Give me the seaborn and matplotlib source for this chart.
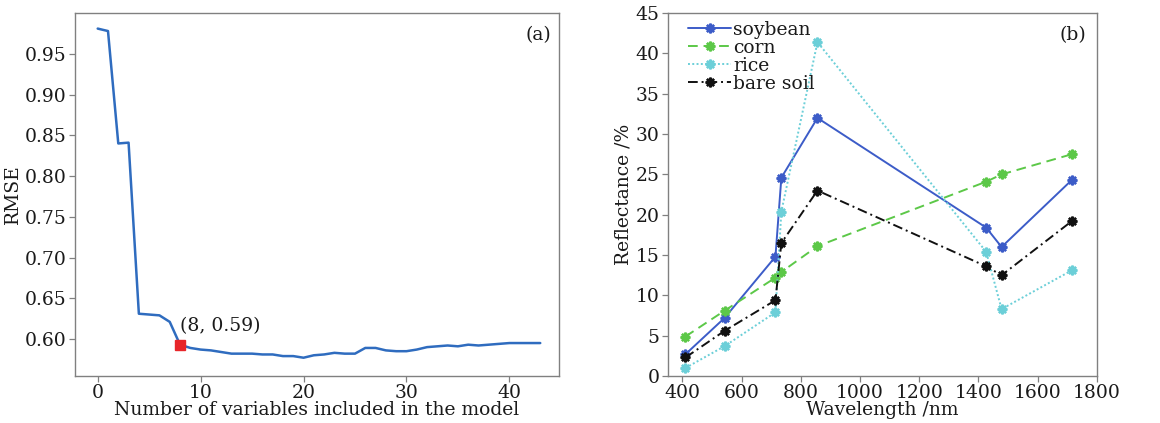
import numpy as np
import pandas as pd
import matplotlib
matplotlib.use("Agg")
import matplotlib.pyplot as plt
import seaborn as sns

# ---- Panel (a) data ----
n_vars = list(range(0, 44))
rmse = [0.981, 0.978, 0.840, 0.841, 0.631, 0.630, 0.629, 0.621, 0.593, 0.589,
        0.587, 0.586, 0.584, 0.582, 0.582, 0.582, 0.581, 0.581, 0.579, 0.579,
        0.577, 0.580, 0.581, 0.583, 0.582, 0.582, 0.589, 0.589, 0.586, 0.585,
        0.585, 0.587, 0.590, 0.591, 0.592, 0.591, 0.593, 0.592, 0.593, 0.594,
        0.595, 0.595, 0.595, 0.595]
best_n = 8
best_rmse = 0.593
best_label = "(8, 0.59)"

# ---- Panel (b) data ----
wavelength = [410, 542, 714, 734, 856, 1426, 1478, 1715]
soybean = [2.7, 7.2, 14.8, 24.6, 32.0, 18.4, 16.0, 24.3]
corn = [4.9, 8.1, 12.2, 12.9, 16.1, 24.1, 25.0, 27.5]
rice = [1.0, 3.7, 7.9, 20.4, 41.4, 15.4, 8.3, 13.1]
bare_soil = [2.3, 5.6, 9.4, 16.5, 23.0, 13.6, 12.5, 19.2]
series_names = ["soybean", "corn", "rice", "bare soil"]

sns.set_style("white")
plt.rcParams["font.family"] = ["DejaVu Serif", "DejaVu Sans"]
plt.rcParams["mathtext.fontset"] = "dejavuserif"

fs = 13.5
text_color = "#1a1a1a"
fig = plt.figure(figsize=(11.6, 4.23), dpi=100)
ax1 = fig.add_axes([0.0647, 0.111, 0.417, 0.858])
ax2 = fig.add_axes([0.5756, 0.111, 0.370, 0.858])

spine_color = "#808080"
for ax in (ax1, ax2):
    for s in ax.spines.values():
        s.set_color(spine_color)
        s.set_linewidth(1.0)
    ax.tick_params(axis="both", which="both", direction="out", length=4,
                   width=0.9, color=spine_color, labelsize=fs,
                   labelcolor=text_color,
                   bottom=True, left=True, top=False, right=False, pad=2)

# Panel (a)
df_a = pd.DataFrame({"n": n_vars, "rmse": rmse})
sns.lineplot(data=df_a, x="n", y="rmse", ax=ax1, color="#2f6cbf", linewidth=1.8)
ax1.plot([best_n], [best_rmse], marker="s", color="#e8262a", markersize=7,
         linestyle="none")
ax1.annotate(best_label, xy=(best_n, best_rmse), xytext=(0, 7),
             textcoords="offset points", fontsize=fs, ha="left", va="bottom",
             color=text_color)
ax1.set_xlim(-2.2, 44.8)
ax1.set_ylim(0.5545, 1.0)
ax1.set_xticks([0, 10, 20, 30, 40])
yt = [0.60, 0.65, 0.70, 0.75, 0.80, 0.85, 0.90, 0.95]
ax1.set_yticks(yt)
ax1.set_yticklabels([f"{v:.2f}" for v in yt])
ax1.set_xlabel("Number of variables included in the model", fontsize=fs,
               labelpad=-1, color=text_color)
ax1.set_ylabel("RMSE", fontsize=fs, labelpad=2, color=text_color)
ax1.text(0.985, 0.965, "(a)", transform=ax1.transAxes, ha="right", va="top",
         fontsize=fs, color=text_color)

# Panel (b)
colors = ["#3c5cc8", "#5cc848", "#6ccfd8", "#111111"]
styles = ["-", (0, (5, 3)), (0, (1, 1.2)), (0, (5, 2, 1, 2))]
values = [soybean, corn, rice, bare_soil]
for name, vals, c, ls in zip(series_names, values, colors, styles):
    df_b = pd.DataFrame({"w": wavelength, "r": vals})
    sns.lineplot(data=df_b, x="w", y="r", ax=ax2, color=c, linestyle=ls,
                 linewidth=1.4, marker=(8, 2, 0), markersize=7,
                 markeredgewidth=1.7, markeredgecolor=c, label=name)
ax2.set_xlim(350, 1800)
ax2.set_ylim(0, 45)
ax2.set_xticks(range(400, 1801, 200))
ax2.set_yticks(range(0, 46, 5))
ax2.set_xlabel("Wavelength /nm", fontsize=fs, labelpad=-1, color=text_color)
ax2.set_ylabel("Reflectance /%", fontsize=fs, labelpad=2, color=text_color)
ax2.text(0.975, 0.965, "(b)", transform=ax2.transAxes, ha="right", va="top",
         fontsize=fs, color=text_color)
leg = ax2.legend(loc="upper left", frameon=False, fontsize=fs,
                 handlelength=2.3, handletextpad=0.1, labelspacing=0.0,
                 borderaxespad=0.1, borderpad=0.2, bbox_to_anchor=(0.035, 0.995))
for t in leg.get_texts():
    t.set_color(text_color)

fig.savefig("out.png", dpi=100)
